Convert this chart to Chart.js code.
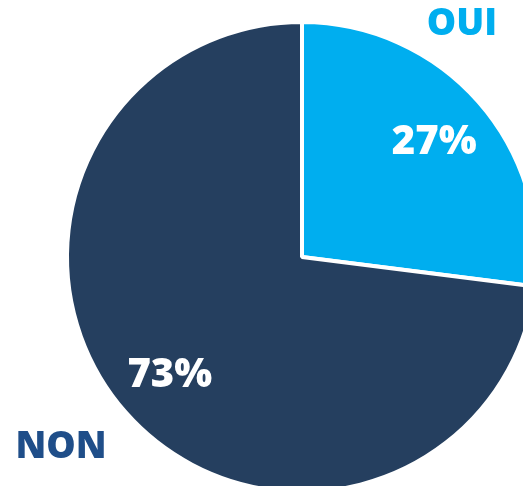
<!DOCTYPE html>
<html>
<head>
<meta charset="utf-8">
<script src="https://cdn.jsdelivr.net/npm/chart.js@4/dist/chart.umd.min.js"></script>
<style>
  html, body { margin: 0; padding: 0; background: #fff; overflow: hidden; }
  #wrap { position: absolute; left: 0; top: 0; width: 604px; height: 514px; }
</style>
</head>
<body>
<div id="wrap"><canvas id="pieChart" width="604" height="514"></canvas></div>
<script>
// Data
const labels = ['OUI', 'NON'];
const values = [27, 73];
const colors = ['#00AEEF', '#253F5F'];
const labelColors = ['#00AEEF', '#1F4E89'];

// Offsets of the category labels from the pie centre
const labelOffsets = [[160, -233], [-241, 190]];

// Draw percentages inside slices and category names outside
const pieLabels = {
  id: 'pieLabels',
  afterDatasetsDraw(chart) {
    const ctx = chart.ctx;
    const meta = chart.getDatasetMeta(0);
    ctx.save();
    ctx.textAlign = 'center';
    ctx.textBaseline = 'middle';
    meta.data.forEach((arc, i) => {
      const p = arc.getProps(['x', 'y', 'startAngle', 'endAngle', 'outerRadius'], true);
      const mid = (p.startAngle + p.endAngle) / 2;
      const r = p.outerRadius * 0.75;
      ctx.fillStyle = '#ffffff';
      ctx.font = '800 40px "Open Sans"';
      ctx.fillText(values[i] + '%', p.x + Math.cos(mid) * r, p.y + Math.sin(mid) * r + 2);

      ctx.fillStyle = labelColors[i];
      ctx.font = '800 37px "Open Sans"';
      ctx.fillText(labels[i], p.x + labelOffsets[i][0], p.y + labelOffsets[i][1]);
    });
    ctx.restore();
  }
};

new Chart(document.getElementById('pieChart'), {
  type: 'pie',
  data: {
    labels: labels,
    datasets: [{
      data: values,
      backgroundColor: colors,
      borderColor: '#ffffff',
      borderWidth: 4
    }]
  },
  options: {
    responsive: false,
    animation: false,
    radius: 235,
    layout: { padding: 0 },
    plugins: {
      legend: { display: false },
      tooltip: { enabled: false }
    }
  },
  plugins: [pieLabels]
});
</script>
</body>
</html>
